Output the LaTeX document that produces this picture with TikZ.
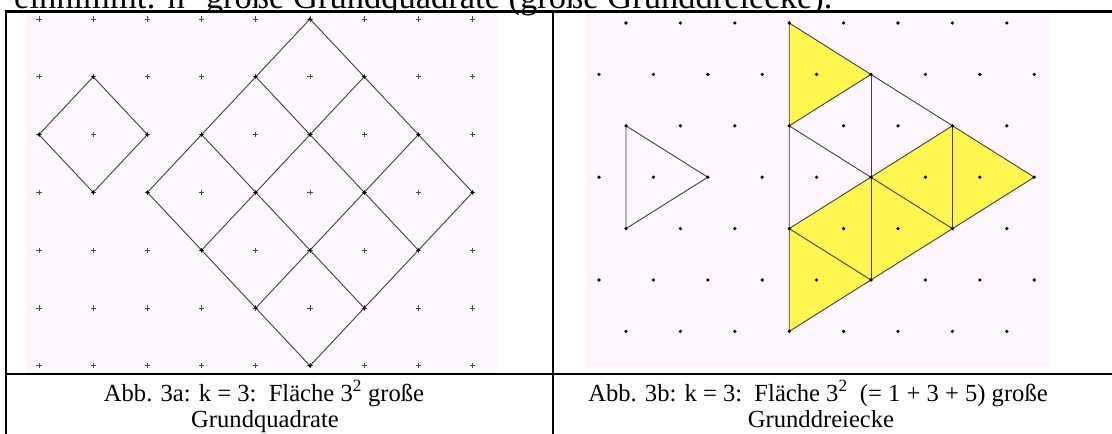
\documentclass[tikz,border=0pt]{standalone}
\usepackage{fontspec}
\setmainfont{Liberation Serif}
\usepackage{tikz}
\usetikzlibrary{positioning,calc}
\definecolor{gridbg}{RGB}{253,247,253}
\definecolor{figyellow}{RGB}{255,246,80}
\tikzset{
  tabline/.style={line width=2.5pt},
  gridbox/.style={fill=gridbg},
  gridplus/.style={draw=black!70, line width=0.8pt},
  griddot/.style={fill=black},
  figline/.style={draw=black!75, line width=0.9pt, line join=round},
  figtri/.style={fill=figyellow},
  captext/.style={font=\fontsize{24.6}{25}\selectfont, anchor=base, inner sep=0pt},
  headtext/.style={font=\fontsize{34.5}{34.5}\selectfont, anchor=base west, inner sep=0pt},
}

\begin{document}
\begin{tikzpicture}[x=1pt,y=-1pt]
  \useasboundingbox (0,0) rectangle (1112,434);
  \clip (0,0) rectangle (1112,434);
  % Kopfzeile (abgeschnitten)
  \node[headtext] (head) at (14,8) {einnimmt: n\textsuperscript{2} große Grundquadrate (große Grunddreiecke).};
  % Hintergruende
  \fill[gridbox] (26,12) rectangle (497,373);
  \fill[gridbox] (585,13) rectangle (1050,367);
  % Tabelle
  \draw[tabline] (6,440) |- (1120,11.5);
  \draw[tabline] (553,11.5) -- (553,440);
  \draw[tabline] (6,374) -- (1120,374);
  % Abb. 3a: Quadratgitter
  \foreach \i in {0,...,8}{
    \foreach \j in {0,...,6}{
      \coordinate (qa-\i-\j) at ({39+54.2*\i},{19+57.8*\j});
      \draw[gridplus] (qa-\i-\j) ++(-2.6,0) -- ++(5.2,0) (qa-\i-\j) ++(0,-2.6) -- ++(0,5.2);
    }
  }
  \draw[figline] (qa-1-1) -- (qa-2-2) -- (qa-1-3) -- (qa-0-2) -- cycle;
  \draw[figline] (qa-5-0) -- (qa-2-3) (qa-6-1) -- (qa-3-4) (qa-7-2) -- (qa-4-5) (qa-8-3) -- (qa-5-6);
  \draw[figline] (qa-5-0) -- (qa-8-3) (qa-4-1) -- (qa-7-4) (qa-3-2) -- (qa-6-5) (qa-2-3) -- (qa-5-6);
  \foreach \p in {1-1,2-2,1-3,0-2,5-0,4-1,6-1,3-2,5-2,7-2,2-3,4-3,6-3,8-3,3-4,5-4,7-4,4-5,6-5,5-6}
    \fill[griddot] (qa-\p) circle (1.7);
  % Abb. 3b: Dreiecksgitter
  \foreach \j in {0,...,6}{
    \pgfmathsetmacro{\xo}{mod(\j,2)==0 ? 626 : 599}
    \pgfmathtruncatemacro{\n}{mod(\j,2)==0 ? 7 : 8}
    \foreach \i in {0,...,\n}{
      \coordinate (tb-\i-\j) at ({\xo+54.4*\i},{23+51.4*\j});
    }
  }
  \fill[figtri] (tb-3-0) -- (tb-3-2) -- (tb-5-1) -- cycle;
  \fill[figtri] (tb-3-4) -- (tb-3-6) -- (tb-5-5) -- cycle;
  \fill[figtri] (tb-3-4) -- (tb-5-3) -- (tb-5-5) -- cycle;
  \fill[figtri] (tb-5-3) -- (tb-5-5) -- (tb-6-4) -- cycle;
  \fill[figtri] (tb-5-3) -- (tb-6-2) -- (tb-6-4) -- cycle;
  \fill[figtri] (tb-6-2) -- (tb-6-4) -- (tb-8-3) -- cycle;
  \draw[figline] (tb-0-2) -- (tb-0-4) -- (tb-2-3) -- cycle;
  \draw[figline] (tb-3-0) -- (tb-8-3) -- (tb-3-6) -- cycle;
  \draw[figline] (tb-5-1) -- (tb-5-5) (tb-6-2) -- (tb-6-4);
  \draw[figline] (tb-3-2) -- (tb-5-1) (tb-3-4) -- (tb-6-2);
  \draw[figline] (tb-3-2) -- (tb-6-4) (tb-3-4) -- (tb-5-5);
  \foreach \j in {0,...,6}{
    \pgfmathtruncatemacro{\n}{mod(\j,2)==0 ? 7 : 8}
    \foreach \i in {0,...,\n}
      \fill[griddot] (tb-\i-\j) circle (1.8);
  }
  % Bildunterschriften
  \node[captext] (capa1) at (264,401) {Abb. 3a: k = 3:\ \ Fläche 3\textsuperscript{2} große};
  \node[captext] (capa2) at (265,427) {Grundquadrate};
  \node[captext] (capb1) at (818,401) {Abb. 3b: k = 3:\ \ Fläche 3\textsuperscript{2}\ \ (= 1 + 3 + 5) große};
  \node[captext] (capb2) at (821,427) {Grunddreiecke};
\end{tikzpicture}
\end{document}
